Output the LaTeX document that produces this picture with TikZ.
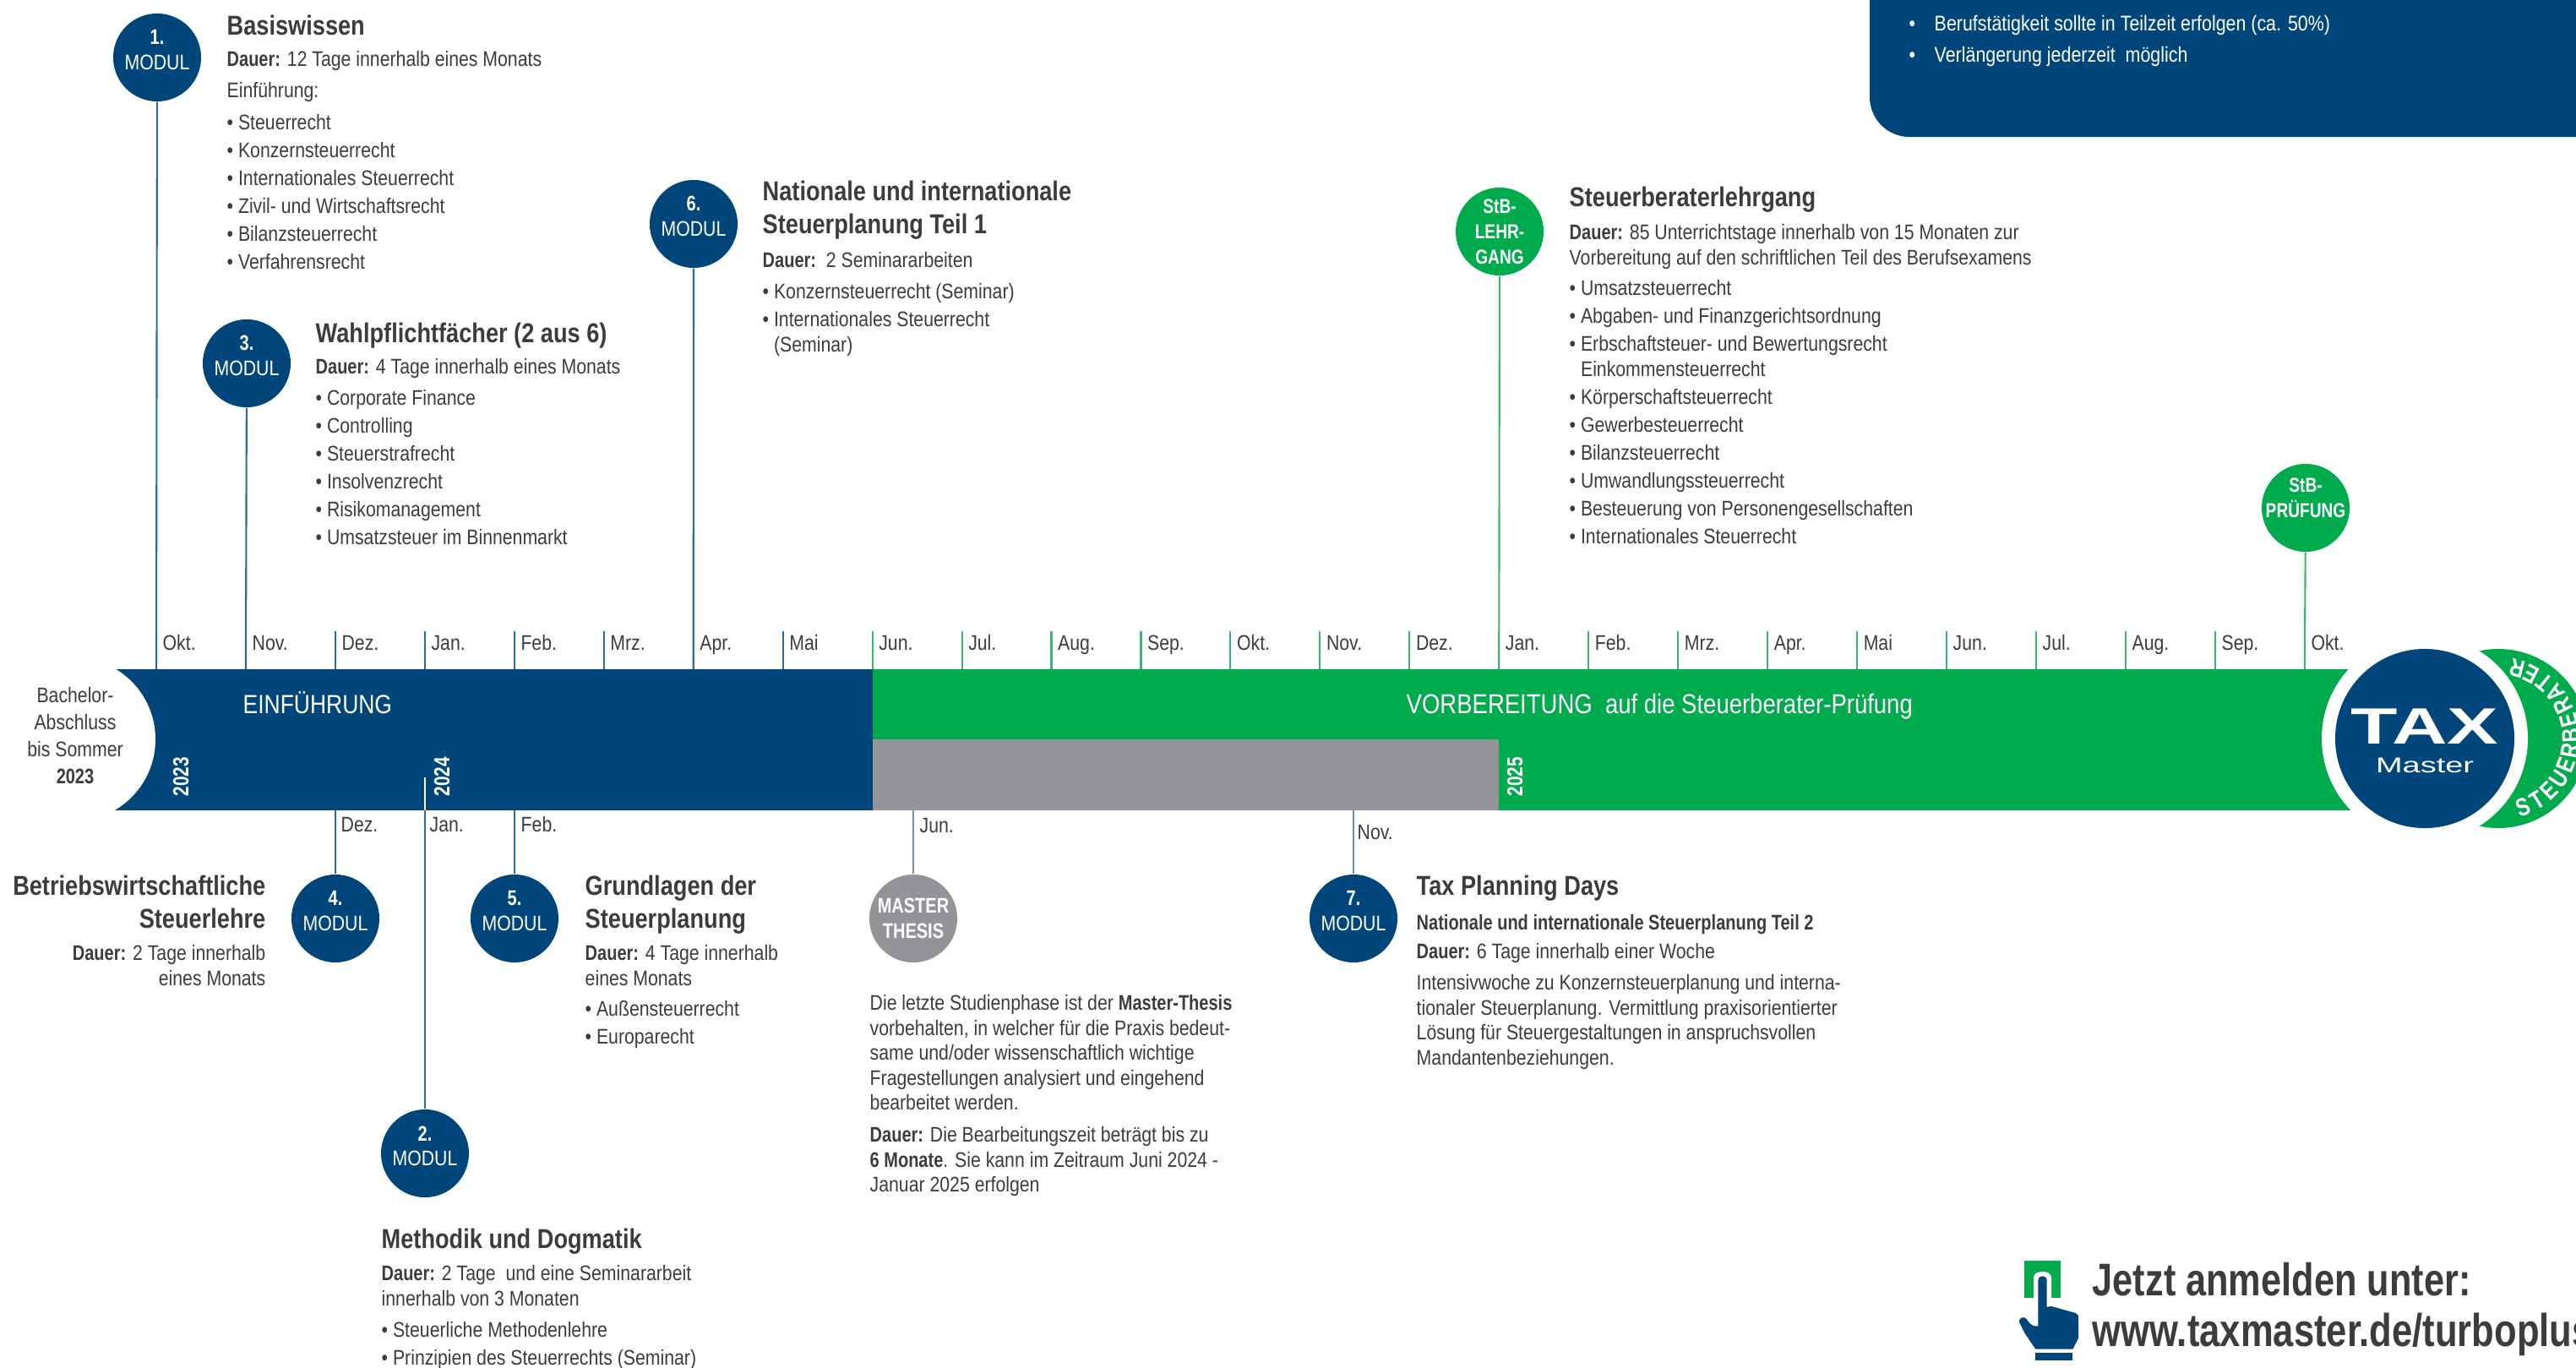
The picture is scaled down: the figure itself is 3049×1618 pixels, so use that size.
\documentclass[tikz,border=0pt]{standalone}
\usepackage{fontspec}
\setmainfont{Liberation Sans}[FakeStretch=0.85,BoldFeatures={FakeStretch=0.8}]
\newfontfamily\widefont{Liberation Sans}[FakeStretch=1.5,BoldFeatures={FakeStretch=1.5}]
\newfontfamily\ttlfont{Liberation Sans Bold}[FakeStretch=0.84]
\definecolor{tmblue}{HTML}{00467A}
\definecolor{tmgreen}{HTML}{00AB4E}
\definecolor{tmgray}{HTML}{929497}
\definecolor{tmtext}{HTML}{3C3C3B}
\definecolor{tmline}{HTML}{2A6C9C}
\definecolor{tmgline}{HTML}{3FB373}
\definecolor{tmgrayline}{HTML}{7A8FA3}
\newcommand\fbody{\fontsize{7.11pt}{9.39pt}\selectfont}
\newcommand\ftight{\fontsize{7.11pt}{8.4pt}\selectfont}
\newcommand\ftitle{\fontsize{9.2pt}{11.1pt}\selectfont\ttlfont}
\newcommand\fst{\rule{0pt}{6.83pt}}
\newcommand\ind{\phantom{• }}
\newcommand\updp[1]{\rule[-#1]{0pt}{#1}}
% name, x, baseline of first line, options, text
\newcommand\Blk[5]{\node[txt,#4] (#1) at (#2,#3-24) {\fst #5};}
\tikzset{
  x=0.01cm,y=-0.01cm,
  txt/.style={anchor=north west,inner sep=0pt,align=left,text=tmtext,font=\fbody},
  tight/.style={font=\ftight},
  ttl/.style={font=\ftitle},
  rightblk/.style={anchor=north east,align=right},
  modblue/.style={circle,fill=tmblue,text=white,minimum size=1.04cm,inner sep=0pt,align=center,font=\fontsize{7.11pt}{8.5pt}\selectfont},
  modgreen/.style={modblue,fill=tmgreen,font=\fontsize{6.8pt}{8.5pt}\selectfont\bfseries},
  modgray/.style={modblue,fill=tmgray,font=\fontsize{7.11pt}{8.5pt}\selectfont\bfseries},
  blueline/.style={draw=tmline,line width=0.6pt},
  greenline/.style={draw=tmgline,line width=0.6pt},
  monthlab/.style={anchor=base west,inner sep=0pt,text=tmtext,font=\fbody},
  year/.style={anchor=base west,inner sep=0pt,rotate=90,text=white,font=\fontsize{7.4pt}{9pt}\selectfont\bfseries},
  barlab/.style={anchor=base west,inner sep=0pt,text=white,font=\fontsize{9.2pt}{11pt}\selectfont},
}
\begin{document}
\begin{tikzpicture}
\useasboundingbox (0,0) rectangle (3049,1618);
\clip (0,0) rectangle (3049,1618);
% info box top right
\fill[tmblue,rounded corners=0.47cm] (2213,-100) rectangle (3300,162);
\node[anchor=base west,inner sep=0pt,text=white,font=\fontsize{7.16pt}{9.39pt}\selectfont] (i1) at (2259,36) {•\hspace{6.4pt}Berufstätigkeit sollte in Teilzeit erfolgen (ca. 50\%)};
\node[anchor=base west,inner sep=0pt,text=white,font=\fontsize{7.16pt}{9.39pt}\selectfont] (i2) at (2259,73) {•\hspace{6.4pt}Verlängerung jederzeit\ \ möglich};
% timeline bar
\fill[tmblue] (130,792) rectangle (1033,959);
\fill[tmgreen] (1033,792) rectangle (2800,875);
\fill[tmgray] (1033,875) rectangle (1774,959);
\fill[tmgreen] (1774,875) rectangle (2800,959);
\fill[white] (87,875) circle (97);
\fill[tmgreen] (2957,874) circle (106);
\fill[white] (2870,874) circle (122);
% logo
\node[circle,fill=tmblue,minimum size=2.12cm,inner sep=0pt] (logo) at (2870,874) {};
\node[anchor=base,inner sep=0pt,text=white,font=\fontsize{17.2pt}{17pt}\selectfont\widefont\bfseries] (tax) at (2870,880) {TAX};
\node[anchor=base,inner sep=0pt,text=white,font=\fontsize{7.2pt}{8pt}\selectfont\widefont] (master) at (2870,914) {Master};
\foreach \c [count=\i] in {S,T,E,U,E,R,B,E,R,A,T,E,R}
  \node[inner sep=0pt,text=white,font=\fontsize{8.4pt}{9pt}\selectfont\bfseries,rotate={-70+12.08*(\i-1)+90}] (c\i) at ({2957+86*cos(-70+12.08*(\i-1))},{874-86*sin(-70+12.08*(\i-1))}) {\c};
% bar labels
\node[barlab,font=\fontsize{8.85pt}{11pt}\selectfont] (einf) at (287,844) {EINFÜHRUNG};
\node[barlab] (vorb) at (1664,844) {VORBEREITUNG\ \ auf die Steuerberater-Prüfung};
\node[year] (y23) at (223,943) {2023};
\node[year] (y24) at (532,943) {2024};
\node[year] (y25) at (1802,943) {2025};
\node[anchor=north,inner sep=0pt,align=center,text=tmtext,font=\fontsize{7.11pt}{9.1pt}\selectfont] (bach) at (89,807) {\fst Bachelor-\\Abschluss\\bis Sommer\\\textbf{2023}};
% modules
\node[modblue] (m1) at (186,68) {\textbf{1.}\\MODUL\updp{5pt}};
\node[modblue] (m3) at (292,430) {\textbf{3.}\\MODUL\updp{5pt}};
\node[modblue] (m6) at (821,265) {\textbf{6.}\\MODUL\updp{5pt}};
\node[modgreen] (stb) at (1775,274) {StB-\\LEHR-\\GANG};
\node[modgreen] (pr) at (2729,601) {};
\node[anchor=center,inner sep=0pt,align=center,text=white,font=\fontsize{6.8pt}{8.5pt}\selectfont\bfseries] (prt) at (2729,589) {StB-\\PRÜFUNG};
\node[modblue] (m4) at (397,1087) {\textbf{4.}\\MODUL\updp{5pt}};
\node[modblue] (m5) at (609,1087) {\textbf{5.}\\MODUL\updp{5pt}};
\node[modblue] (m2) at (503,1365) {\textbf{2.}\\MODUL\updp{5pt}};
\node[modgray] (mt) at (1081,1087) {MASTER\\THESIS};
\node[modblue] (m7) at (1602,1087) {\textbf{7.}\\MODUL\updp{5pt}};
% month ticks and labels
\foreach \k/\m in {0/Okt.,1/Nov.,2/Dez.,3/Jan.,4/Feb.,5/Mrz.,6/Apr.,7/Mai}{
  \coordinate (top\k) at ({185+105.95*\k},792);
  \coordinate (tip\k) at ({185+105.95*\k},747);
  \draw[blueline] (tip\k) -- (top\k);
  \node[monthlab] (ml\k) at ({192+105.95*\k},769) {\m};
}
\foreach \k/\m in {8/Jun.,9/Jul.,10/Aug.,11/Sep.,12/Okt.,13/Nov.,14/Dez.,15/Jan.,16/Feb.,17/Mrz.,18/Apr.,19/Mai,20/Jun.,21/Jul.,22/Aug.,23/Sep.,24/Okt.}{
  \coordinate (top\k) at ({185+105.95*\k},792);
  \coordinate (tip\k) at ({185+105.95*\k},747);
  \draw[greenline] (tip\k) -- (top\k);
  \node[monthlab] (ml\k) at ({192+105.95*\k},769) {\m};
}
% connectors from modules to bar
\draw[blueline] (m1) -- (top0);
\draw[blueline] (m3) -- (top1);
\draw[blueline] (m6) -- (top6);
\draw[greenline] (stb) -- (top15);
\draw[greenline] (pr) -- (top24);
\coordinate (b2) at (397,959);
\coordinate (b3) at (503,959);
\coordinate (b3i) at (503,920);
\coordinate (b4) at (609,959);
\coordinate (bj) at (1081,959);
\coordinate (bn) at (1602,959);
\draw[blueline] (m4) -- (b2);
\draw[blueline] (m2) -- (b3);
\draw[draw=white,line width=0.6pt] (b3) -- (b3i);
\draw[blueline] (m5) -- (b4);
\draw[draw=tmgrayline,line width=0.6pt] (mt) -- (bj);
\draw[draw=tmgrayline,line width=0.6pt] (m7) -- (bn);
\node[monthlab] (bl2) at (403,984) {Dez.};
\node[monthlab] (bl3) at (508,984) {Jan.};
\node[monthlab] (bl4) at (616,984) {Feb.};
\node[monthlab] (bl5) at (1088,985) {Jun.};
\node[monthlab] (bl6) at (1606,993) {Nov.};
% module 1
\Blk{t1}{268}{41}{ttl}{Basiswissen}
\Blk{d1}{268}{78}{}{\textbf{Dauer:} 12 Tage innerhalb eines Monats}
\Blk{e1}{268}{115}{}{Einführung:}
\Blk{b1}{268}{153}{}{• Steuerrecht\\• Konzernsteuerrecht\\• Internationales Steuerrecht\\• Zivil- und Wirtschaftsrecht\\• Bilanzsteuerrecht\\• Verfahrensrecht}
% module 3
\Blk{t3}{373}{405}{ttl}{Wahlpflichtfächer (2 aus 6)}
\Blk{d3}{373}{442}{}{\textbf{Dauer:} 4 Tage innerhalb eines Monats}
\Blk{b3t}{373}{479}{}{• Corporate Finance\\• Controlling\\• Steuerstrafrecht\\• Insolvenzrecht\\• Risikomanagement\\• Umsatzsteuer im Binnenmarkt}
% module 6
\Blk{t6}{902}{237}{ttl}{Nationale und internationale\\Steuerplanung Teil 1}
\Blk{d6}{902}{316}{}{\textbf{Dauer:}\ \ 2 Seminararbeiten}
\Blk{b6}{902}{353}{tight}{• Konzernsteuerrecht (Seminar)\\[1.0pt]• Internationales Steuerrecht\\\ind(Seminar)}
% StB Lehrgang
\Blk{ts}{1857}{244}{ttl}{Steuerberaterlehrgang}
\Blk{ds}{1857}{283}{tight}{\textbf{Dauer:} 85 Unterrichtstage innerhalb von 15 Monaten zur\\Vorbereitung auf den schriftlichen Teil des Berufsexamens}
\Blk{bs}{1857}{349}{}{• Umsatzsteuerrecht\\• Abgaben- und Finanzgerichtsordnung\\• Erbschaftsteuer- und Bewertungsrecht\\[-1.0pt]\ind Einkommensteuerrecht\\• Körperschaftsteuerrecht\\• Gewerbesteuerrecht\\• Bilanzsteuerrecht\\• Umwandlungssteuerrecht\\• Besteuerung von Personengesellschaften\\• Internationales Steuerrecht}
% module 4
\Blk{t4}{315}{1059}{ttl,rightblk}{Betriebswirtschaftliche\\Steuerlehre}
\Blk{d4}{315}{1136}{tight,rightblk}{\textbf{Dauer:} 2 Tage innerhalb\\eines Monats}
% module 5
\Blk{t5}{692}{1059}{ttl}{Grundlagen der\\Steuerplanung}
\Blk{d5}{692}{1136}{tight}{\textbf{Dauer:} 4 Tage innerhalb\\eines Monats}
\Blk{b5}{692}{1202}{}{• Außensteuerrecht\\• Europarecht}
% module 2
\Blk{t2}{451}{1477}{ttl}{Methodik und Dogmatik}
\Blk{d2}{451}{1515}{tight}{\textbf{Dauer:} 2 Tage\ \ und eine Seminararbeit\\innerhalb von 3 Monaten}
\Blk{b2t}{451}{1582}{}{• Steuerliche Methodenlehre\\• Prinzipien des Steuerrechts (Seminar)}
% master thesis
\Blk{mtx}{1029}{1195}{tight}{Die letzte Studienphase ist der \textbf{Master-Thesis}\\vorbehalten, in welcher für die Praxis bedeut-\\same und/oder wissenschaftlich wichtige\\Fragestellungen analysiert und eingehend\\bearbeitet werden.}
\Blk{mtd}{1029}{1351}{tight}{\textbf{Dauer:} Die Bearbeitungszeit beträgt bis zu\\\textbf{6 Monate}. Sie kann im Zeitraum Juni 2024 -\\Januar 2025 erfolgen}
% module 7
\Blk{t7}{1676}{1059}{ttl}{Tax Planning Days}
\Blk{s7}{1676}{1100}{}{\textbf{Nationale und internationale Steuerplanung Teil 2}}
\Blk{d7}{1676}{1134}{}{\textbf{Dauer:} 6 Tage innerhalb einer Woche}
\Blk{x7}{1676}{1171}{tight}{Intensivwoche zu Konzernsteuerplanung und interna-\\tionaler Steuerplanung. Vermittlung praxisorientierter\\Lösung für Steuergestaltungen in anspruchsvollen\\Mandantenbeziehungen.}
% call to action
\fill[tmgreen] (2395.5,1492) rectangle (2439,1536);
\begin{scope}[shift={(2350,1450)},xscale=.4458,yscale=.3333]
  \fill[white] (128,258) -- (128,185) .. controls (128,158) and (175,158) .. (175,185) -- (175,258) -- cycle;
  \fill[tmblue] (140,358) -- (140,195) .. controls (140,176) and (163,176) .. (163,195) -- (163,290) -- (175,288) -- (240,312) -- (247,322) -- (247,400) -- (232,440) -- (133,440) -- (105,385) -- (90,345) .. controls (88,325) and (105,322) .. (110,335) .. controls (118,352) and (128,362) .. (140,358) -- cycle;
  \fill[tmblue] (133,453) rectangle (232,480);
\end{scope}
\node[anchor=base west,inner sep=0pt,text=tmtext,font=\fontsize{15.4pt}{17pt}\selectfont\bfseries] (cta1) at (2476,1533) {Jetzt anmelden unter:};
\node[anchor=base west,inner sep=0pt,text=tmtext,font=\fontsize{15.5pt}{17pt}\selectfont\bfseries] (cta2) at (2476,1593) {www.taxmaster.de/turboplus};
\end{tikzpicture}
\end{document}
